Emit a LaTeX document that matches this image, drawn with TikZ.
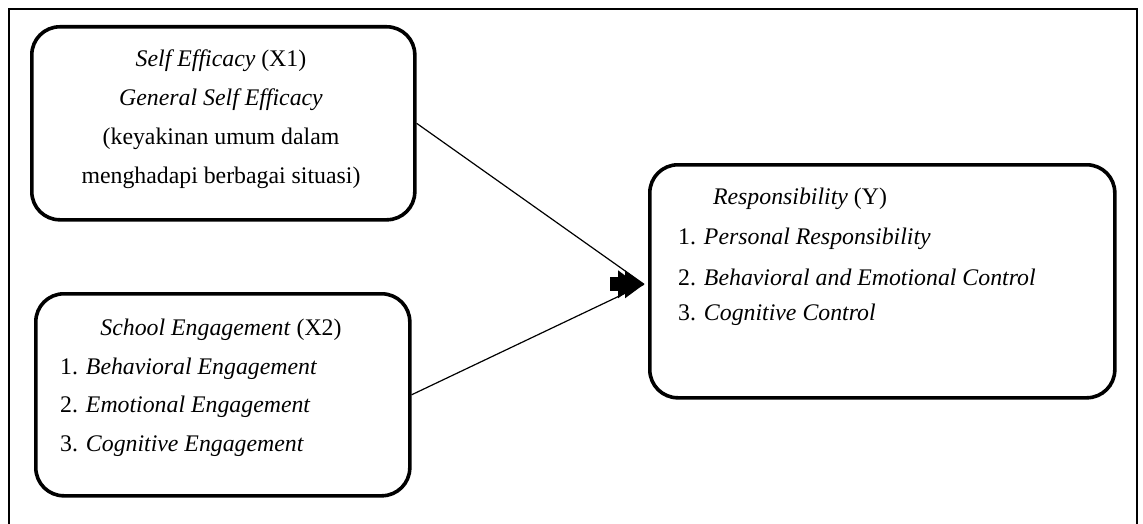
\documentclass[tikz,border=0pt]{standalone}
\usepackage{fontspec}
\setmainfont{Liberation Serif}
\begin{document}
\begin{tikzpicture}[x=1pt,y=-1pt,
  box/.style={draw,line width=3.6pt,rounded corners=28pt,inner sep=0pt,anchor=north west},
  txt/.style={inner sep=0pt,font=\fontsize{23.8}{28}\selectfont},
  ltxt/.style={txt,anchor=west},
  conn/.style={line width=1.2pt}]
\useasboundingbox (0,0) rectangle (1143,524);
\draw[line width=2pt] (9,560) -- (9,9) -- (1137,9) -- (1137,560);
% boxes
\node[box,minimum width=383pt,minimum height=193pt] (b1) at (30,25) {};
\node[box,minimum width=374pt,minimum height=202pt] (b2) at (34,292) {};
\node[box,minimum width=465pt,minimum height=233pt] (b3) at (648,163) {};
% box 1 text
\node[txt] (t11) at (221,61) {\textit{Self Efficacy} (X1)};
\node[txt] (t12) at (221,100) {\textit{General Self Efficacy}};
\node[txt] (t13) at (221,139) {(keyakinan umum dalam};
\node[txt] (t14) at (221,178) {menghadapi berbagai situasi)};
% box 2 text
\node[txt] (t21) at (221,330) {\textit{School Engagement} (X2)};
\node[ltxt] (t22) at (60,369) {1. \textit{Behavioral Engagement}};
\node[ltxt] (t23) at (60,407) {2. \textit{Emotional Engagement}};
\node[ltxt] (t24) at (60,446) {3. \textit{Cognitive Engagement}};
% box 3 text
\node[txt] (t31) at (800,199) {\textit{Responsibility} (Y)};
\node[ltxt] (t32) at (678,239) {1. \textit{Personal Responsibility}};
\node[ltxt] (t33) at (678,277) {2. \textit{Behavioral and Emotional Control}};
\node[ltxt] (t34) at (678,315) {3. \textit{Cognitive Control}};
% connectors
\coordinate (tip) at ([xshift=-4pt,yshift=-3pt]b3.west);
\draw[conn] (b1.east) -- (tip);
\draw[conn] (b2.east) -- (tip);
\fill ([xshift=-34pt,yshift=-7pt]tip) rectangle ([xshift=-16pt,yshift=7pt]tip);
\fill ([xshift=-19pt,yshift=-14pt]tip) -- (tip) -- ([xshift=-19pt,yshift=14pt]tip) -- cycle;
\fill ([xshift=-26pt,yshift=-14pt]tip) -- ([xshift=-7pt,yshift=0pt]tip) -- ([xshift=-26pt,yshift=14pt]tip) -- cycle;
\end{tikzpicture}
\end{document}
